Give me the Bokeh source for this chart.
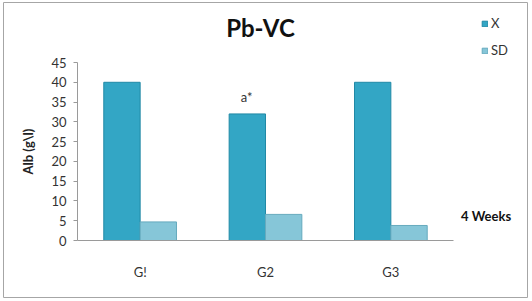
from bokeh.plotting import figure
from bokeh.models import (ColumnDataSource, FactorRange, Range1d, Label, Legend, LegendItem,
                          LinearAxis, CategoricalAxis, FixedTicker)
from bokeh.transform import dodge
from bokeh.embed import file_html
from bokeh.resources import INLINE

groups = ["G!", "G2", "G3"]
x_mean = [40, 32, 40]
sd = [4.7, 6.6, 3.8]
y_ticks = [0, 5, 10, 15, 20, 25, 30, 35, 40, 45]

FONT = "Lato"
src = ColumnDataSource(dict(g=groups, x=x_mean, sd=sd))

p = figure(width=532, height=301,
           x_range=FactorRange(*groups, range_padding=0.59, range_padding_units="absolute"),
           y_range=Range1d(-14.41, 60.17), output_backend="svg", toolbar_location=None,
           x_axis_type=None, y_axis_type=None,
           min_border_left=3, min_border_right=5, min_border_top=2, min_border_bottom=4)
p.background_fill_color = "white"
p.border_fill_color = "white"
p.outline_line_color = "#a6a6a6"
p.outline_line_width = 1
p.grid.grid_line_color = None

rx = p.vbar(x=dodge("g", -0.145, range=p.x_range), top="x", width=0.29, source=src,
            fill_color="#33A6C5", line_color="#2189A6", line_width=1)
rs = p.vbar(x=dodge("g", 0.145, range=p.x_range), top="sd", width=0.29, source=src,
            fill_color="#86C6D8", line_color="#66AABE", line_width=1)

# axes (placed at fixed data locations inside the frame)
yax = LinearAxis(fixed_location=0, bounds=(0, 45), ticker=FixedTicker(ticks=y_ticks))
yax.axis_label = "Alb (g\\l)"
yax.axis_label_text_font = FONT
yax.axis_label_text_font_style = "bold"
yax.axis_label_text_font_size = "13px"
yax.axis_label_text_color = "#222222"
yax.axis_label_standoff = 12
yax.major_label_text_font = FONT
yax.major_label_text_font_size = "13px"
yax.major_label_text_color = "#333333"
yax.axis_line_color = "#9a9a9a"
yax.major_tick_line_color = "#9a9a9a"
yax.major_tick_out = 4
yax.major_tick_in = 0
yax.minor_tick_line_color = None
yax.major_label_standoff = 7
p.add_layout(yax, "left")

xax = CategoricalAxis(fixed_location=0, bounds=(0, 3))
xax.major_label_text_font = FONT
xax.major_label_text_font_size = "13px"
xax.major_label_text_color = "#333333"
xax.axis_line_color = "#9a9a9a"
xax.major_tick_line_color = None
xax.minor_tick_line_color = None
xax.major_label_standoff = 17
p.add_layout(xax, "below")

# texts
p.add_layout(Label(x=1.46, y=50.3, text="Pb-VC", text_font=FONT, text_font_style="bold",
                   text_font_size="24px", text_align="center", text_color="#111111"))
p.add_layout(Label(x=1.35, y=34.2, text="a*", text_font=FONT, text_font_size="13px",
                   text_align="center", text_color="#333333"))
p.add_layout(Label(x=3.06, y=4.2, text="4 Weeks", text_font=FONT, text_font_style="bold",
                   text_font_size="13px", text_align="left", text_color="#111111"))

legend = Legend(items=[LegendItem(label="X", renderers=[rx]),
                       LegendItem(label="SD", renderers=[rs])],
                location=(478, 239), glyph_width=7, glyph_height=7, label_height=12,
                spacing=11, padding=0, margin=0, border_line_color=None,
                background_fill_alpha=0, label_text_font=FONT, label_text_font_size="13px",
                label_text_color="#333333", label_standoff=3)
p.add_layout(legend, "center")

open("out.html", "w").write(file_html(p, INLINE))
